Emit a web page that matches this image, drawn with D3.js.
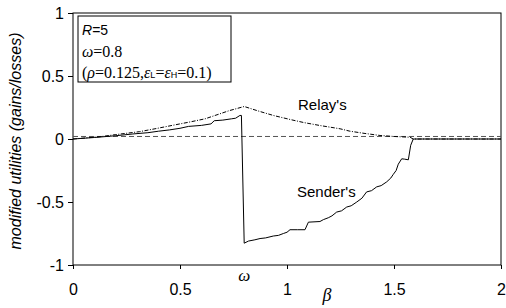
<!DOCTYPE html>
<html>
<head>
<meta charset="utf-8">
<script src="https://cdn.jsdelivr.net/npm/d3@7"></script>
<style>
  body { margin: 0; background: #fff; }
  svg { display: block; }
  .tick text { font-family: "Liberation Sans", Arial, sans-serif; font-size: 16px; fill: #000; }
</style>
</head>
<body>
<svg id="chart" width="506" height="308"></svg>
<script>
// beta values and utilities
const senderBeta = [0, 0.1, 0.2, 0.28, 0.35, 0.4, 0.45, 0.5, 0.54, 0.6, 0.645, 0.66, 0.7, 0.74, 0.76, 0.78, 0.787,
  0.8, 0.82, 0.85, 0.874, 0.9, 0.936, 0.96, 0.983, 1.0, 1.014, 1.05, 1.084, 1.1, 1.154, 1.17, 1.193, 1.21, 1.232,
  1.255, 1.279, 1.3, 1.326, 1.35, 1.372, 1.395, 1.419, 1.44, 1.466, 1.485, 1.497, 1.51, 1.52, 1.536, 1.55, 1.567,
  1.578, 1.59, 2.0];
const senderValue = [0, 0.012, 0.026, 0.04, 0.05, 0.062, 0.072, 0.085, 0.1, 0.108, 0.12, 0.145, 0.15, 0.16, 0.165,
  0.187, 0.187, -0.827, -0.81, -0.8, -0.79, -0.785, -0.77, -0.765, -0.75, -0.74, -0.72, -0.72, -0.72, -0.66, -0.655,
  -0.64, -0.625, -0.61, -0.58, -0.57, -0.54, -0.53, -0.5, -0.47, -0.42, -0.41, -0.38, -0.37, -0.34, -0.31, -0.28,
  -0.25, -0.2, -0.157, -0.16, -0.165, -0.05, 0, 0];

const relayBeta = [0, 0.126, 0.2, 0.31, 0.383, 0.5, 0.54, 0.617, 0.73, 0.8, 0.87, 0.936, 1.014, 1.08, 1.154, 1.248,
  1.294, 1.36, 1.435, 1.5, 1.575, 1.59, 2.0];
const relayValue = [0, 0.018, 0.035, 0.058, 0.081, 0.12, 0.133, 0.16, 0.225, 0.258, 0.22, 0.187, 0.155, 0.13, 0.107,
  0.081, 0.062, 0.045, 0.028, 0.02, 0.014, 0, 0];

const refLevel = [0.02];
const xTicks = [0, 0.5, 1, 1.5, 2];
const yTicks = [-1, -0.5, 0, 0.5, 1];

const width = 506, height = 308;
const margin = { top: 13, left: 73, bottom: 43, right: 5 };
const iwidth = width - margin.left - margin.right;
const iheight = height - margin.top - margin.bottom;

const svg = d3.select("#chart");
const g = svg.append("g").attr("transform", `translate(${margin.left},${margin.top})`);

const x = d3.scaleLinear().domain([0, 2]).range([0, iwidth]);
const y = d3.scaleLinear().domain([-1, 1]).range([iheight, 0]);

// axes
g.append("g")
  .attr("transform", `translate(0,${iheight})`)
  .call(d3.axisBottom(x).tickValues(xTicks).tickSize(4).tickPadding(15).tickFormat(d => String(d)))
  .call(a => a.select(".domain").remove());

g.append("g")
  .call(d3.axisLeft(y).tickValues(yTicks).tickSize(5).tickPadding(4).tickFormat(d => String(d)))
  .call(a => a.select(".domain").remove());

g.selectAll(".tick line").attr("stroke", "#000");

g.append("rect")
  .attr("width", iwidth).attr("height", iheight)
  .attr("fill", "none").attr("stroke", "#000").attr("stroke-width", 1);

// zero reference
g.selectAll(".ref").data(refLevel).enter().append("line")
  .attr("x1", 0).attr("x2", iwidth)
  .attr("y1", d => y(d)).attr("y2", d => y(d))
  .attr("stroke", "#555").attr("stroke-width", 1).attr("stroke-dasharray", "5,3");

const line = d3.line().x(d => x(d[0])).y(d => y(d[1]));

g.append("path")
  .datum(relayBeta.map((b, i) => [b, relayValue[i]]))
  .attr("d", line).attr("fill", "none").attr("stroke", "#000")
  .attr("stroke-width", 1).attr("stroke-dasharray", "4,1.5,1,1.5");

g.append("path")
  .datum(senderBeta.map((b, i) => [b, senderValue[i]]))
  .attr("d", line).attr("fill", "none").attr("stroke", "#000").attr("stroke-width", 1);

// curve labels
const sans = "'Liberation Sans', Arial, sans-serif";
const serif = "'Liberation Serif', 'Times New Roman', serif";
svg.append("text").attr("x", 298).attr("y", 110).attr("font-family", sans).attr("font-size", 15).text("Relay's");
svg.append("text").attr("x", 297).attr("y", 197).attr("font-family", sans).attr("font-size", 15).text("Sender's");

// omega and beta under axis
svg.append("text").attr("x", margin.left + x(0.8)).attr("y", 281).attr("text-anchor", "middle")
  .attr("font-family", serif).attr("font-style", "italic").attr("font-size", 17).text("ω");
svg.append("text").attr("x", 327).attr("y", 301).attr("text-anchor", "middle")
  .attr("font-family", serif).attr("font-style", "italic").attr("font-size", 18).text("β");

// y axis title
svg.append("text")
  .attr("transform", `translate(21,141) rotate(-90)`)
  .attr("text-anchor", "middle").attr("font-family", sans).attr("font-style", "italic").attr("font-size", 16)
  .text("modified utilities (gains/losses)");

// parameter box
svg.append("rect").attr("x", 78).attr("y", 16).attr("width", 153).attr("height", 66)
  .attr("fill", "#fff").attr("stroke", "#000").attr("stroke-width", 1);

const t1 = svg.append("text").attr("x", 82).attr("y", 35).attr("font-family", sans).attr("font-size", 14);
t1.append("tspan").attr("font-style", "italic").text("R");
t1.append("tspan").text("=5");

const t2 = svg.append("text").attr("x", 82).attr("y", 57).attr("font-family", serif).attr("font-size", 16);
t2.append("tspan").attr("font-style", "italic").text("ω");
t2.append("tspan").text("=0.8");

const t3 = svg.append("text").attr("x", 82).attr("y", 78).attr("font-family", serif).attr("font-size", 16);
t3.append("tspan").text("(");
t3.append("tspan").attr("font-style", "italic").text("ρ");
t3.append("tspan").text("=0.125,");
t3.append("tspan").attr("font-style", "italic").text("ε");
t3.append("tspan").attr("font-family", sans).attr("font-size", 9).text("L");
t3.append("tspan").text("=");
t3.append("tspan").attr("font-style", "italic").text("ε");
t3.append("tspan").attr("font-family", sans).attr("font-size", 9).text("H");
t3.append("tspan").text("=0.1)");
</script>
</body>
</html>
